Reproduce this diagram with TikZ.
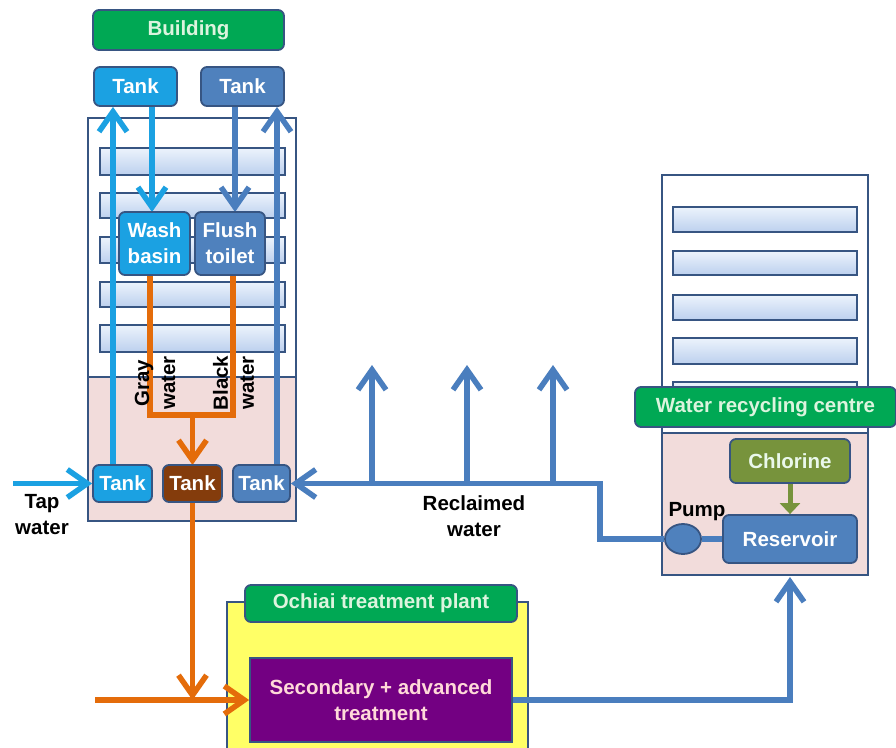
\documentclass[tikz,border=0pt]{standalone}
\usepackage{fontspec}
\setmainfont{Liberation Sans}
\usetikzlibrary{arrows.meta,shapes.geometric,calc}
\definecolor{lblue}{RGB}{27,161,226}
\definecolor{sblue}{RGB}{79,129,189}
\definecolor{lineblue}{RGB}{74,126,190}
\definecolor{bordc}{RGB}{55,85,130}
\definecolor{orng}{RGB}{228,108,10}
\definecolor{brwn}{RGB}{132,60,12}
\definecolor{grn}{RGB}{0,168,84}
\definecolor{olive}{RGB}{119,147,60}
\definecolor{purp}{RGB}{115,0,130}
\definecolor{yell}{RGB}{255,255,102}
\definecolor{pnk}{RGB}{242,220,219}
\definecolor{bartop}{RGB}{236,243,252}
\definecolor{barbot}{RGB}{188,208,238}
\definecolor{lbltext}{RGB}{220,244,222}
\begin{document}
\begin{tikzpicture}[x=1pt,y=-1pt,
  txt/.style={font=\bfseries\fontsize{20.5}{26}\selectfont},
  box/.style={txt,draw=bordc,line width=1.8pt,rounded corners=6pt,text=white,inner sep=0pt,align=center},
  lbl/.style={box,fill=grn,text=lbltext},
  bar/.style={draw=bordc,line width=1.6pt,top color=bartop,bottom color=barbot},
  bpipe/.style={draw=lineblue,line width=5.5pt},
  lpipe/.style={draw=lblue,line width=5.5pt},
  opipe/.style={draw=orng,line width=5.5pt},
  tip/.style={-{Straight Barb[length=20pt,width=28pt]}},
  plain/.style={txt,text=black,align=center,inner sep=0pt}
]
\useasboundingbox[fill=white] (0,0) rectangle (896,747);

% ---- Building ----
\draw[bordc,line width=1.8pt,fill=white] (88,118) rectangle (296,521);
\draw[bordc,line width=1.8pt,fill=pnk] (88,377) rectangle (296,521);
\foreach \ya/\yb in {148/175,193/218,237/263,282/307,325/352}
  \shade[bar] (100,\ya) rectangle (285,\yb);

\node[lbl,minimum width=191pt,minimum height=40pt] (bldg) at (188.5,30) {Building};
\node[box,fill=lblue,minimum width=83pt,minimum height=39pt] (tankTL) at (135.5,86.5) {Tank};
\node[box,fill=sblue,minimum width=83pt,minimum height=39pt] (tankTR) at (242.5,86.5) {Tank};

% pipes in building (drawn before boxes)
\draw[lpipe,tip] (113,465) -- ([xshift=-22.5pt]tankTL.south);
\draw[bpipe,tip] (277,465) -- ([xshift=34.5pt]tankTR.south);
\draw[lpipe,tip] ([xshift=16.5pt]tankTL.south) -- (152,212);
\draw[bpipe,tip] ([xshift=-7.5pt]tankTR.south) -- (235,212);

\draw[opipe] (150,275) -- (150,415) -- (233,415) -- (233,275);
\coordinate (gj) at (192.5,415);
\draw[opipe,tip] (gj) -- (192.5,465);

\node[box,fill=lblue,minimum width=71pt,minimum height=63pt] (wash) at (154.5,243.5) {Wash\\basin};
\node[box,fill=sblue,minimum width=70pt,minimum height=63pt] (flush) at (230,243.5) {Flush\\toilet};

\node[box,fill=lblue,minimum width=59pt,minimum height=37pt] (tankBL) at (122.5,483.5) {Tank};
\node[box,fill=brwn,minimum width=59pt,minimum height=37pt] (tankBM) at (192.5,483.5) {Tank};
\node[box,fill=sblue,minimum width=57pt,minimum height=37pt] (tankBR) at (261.5,483.5) {Tank};

\node[plain,rotate=90] (gray) at (155,383) {Gray\\water};
\node[plain,rotate=90] (black) at (233.5,383) {Black\\water};

% tap water
\coordinate (tapin) at (13,483.5);
\draw[lpipe,tip] (tapin) -- (tankBL.west);
\node[plain] (tap) at (42,515) {Tap\\water};

% ---- Water recycling centre ----
\draw[bordc,line width=1.8pt,fill=white] (662,175) rectangle (868,575);
\draw[bordc,line width=1.8pt,fill=pnk] (662,433) rectangle (868,575);
\foreach \ya/\yb in {207/232,251/275,295/320,338/364,382/408}
  \shade[bar] (673,\ya) rectangle (857,\yb);
\node[lbl,minimum width=261pt,minimum height=40pt] (wrc) at (765.5,407) {Water recycling centre};
\node[box,fill=olive,text=lbltext!60!white,minimum width=120pt,minimum height=44pt] (chl) at (790,461) {Chlorine};
\node[box,fill=sblue,minimum width=134pt,minimum height=48pt] (res) at (790,539) {Reservoir};
\draw[olive,line width=5pt,-{Triangle[length=11pt,width=20pt]}] (chl.south) -- (res.north);
\node[ellipse,draw=bordc,line width=1.8pt,fill=sblue,minimum width=36pt,minimum height=30pt,inner sep=0pt] (pump) at (683,539) {};
\draw[bpipe] (pump.east) -- (pump.east -| res.west);
\node[txt,text=black,inner sep=0pt] (pumplbl) at (697,512) {Pump};

% reclaimed water
\draw[bpipe,tip] (pump.west) -- (600,539) -- (600,483.5) -- (tankBR.east);
\foreach \xx in {372,467,553}
  \draw[bpipe,tip] (\xx,483.5) -- (\xx,365);
\node[plain] (recl) at (474,516) {Reclaimed\\water};

% ---- Ochiai treatment plant ----
\draw[bordc,line width=1.8pt,fill=yell] (227,602) rectangle (528,760);
\node[lbl,minimum width=272pt,minimum height=37pt] (och) at (381,603.5) {Ochiai treatment plant};
\node[txt,draw=bordc,line width=1.8pt,fill=purp,text=pink!60!white,align=center,minimum width=262pt,minimum height=84pt,inner sep=0pt] (treat) at (381,700) {Secondary + advanced\\treatment};

% orange to treatment
\draw[opipe,tip] (tankBM.south) -- (192.5,700);
\coordinate (sewin) at (95,700);
\draw[opipe,tip] (sewin) -- (treat.west);

% treated water to recycling centre
\draw[bpipe,tip] (treat.east) -- (790,700) -- (790,577);
\end{tikzpicture}
\end{document}
